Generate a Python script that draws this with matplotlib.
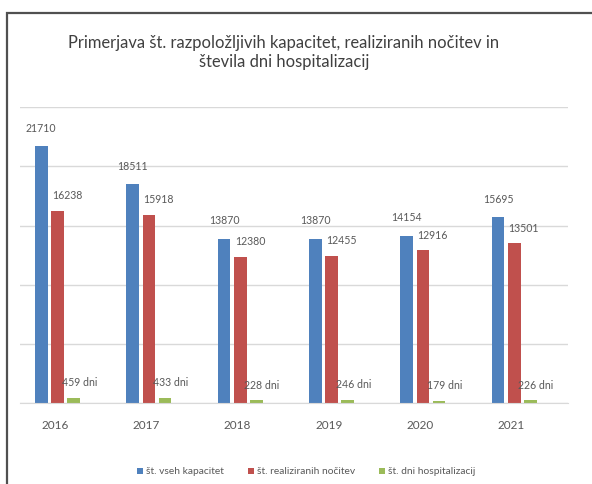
import numpy as np
import matplotlib.pyplot as plt
from matplotlib.patches import Rectangle

plt.rcParams['font.family'] = ['Lato', 'DejaVu Sans']

leta = ['2016', '2017', '2018', '2019', '2020', '2021']
kapacitete = [21710, 18511, 13870, 13870, 14154, 15695]
nocitve = [16238, 15918, 12380, 12455, 12916, 13501]
dni_hosp = [459, 433, 228, 246, 179, 226]
serije = ['št. vseh kapacitet', 'št. realiziranih nočitev', 'št. dni hospitalizacij']
barve = ['#4F81BD', '#C0504D', '#9BBB59']

fig = plt.figure(figsize=(5.92, 4.84), dpi=100)
ax = fig.add_axes([20 / 592, 81 / 484, 548 / 592, 295.7 / 484])

x = np.arange(len(leta))
korak = 0.178
sirina = 0.139
vrednosti = [kapacitete, nocitve, dni_hosp]
for k in range(3):
    pos = x + (k - 1.5) * korak
    bars = ax.bar(pos, vrednosti[k], sirina, color=barve[k], label=serije[k])
    for b, v in zip(bars, vrednosti[k]):
        if k == 0:
            txt, dx, dy = str(v), 0, 9
        elif k == 1:
            txt, dx, dy = str(v), 7, 7
        else:
            txt, dx, dy = f'{v} dni', 4, 7
        ax.annotate(txt, (b.get_x() + b.get_width() / 2, v), xytext=(dx, dy),
                    textcoords='offset points', ha='center', va='bottom',
                    fontsize=7.6, color='#595959')

ax.set_xlim(-0.5, 5.5)
ax.set_ylim(0, 25000)
ax.set_yticks(np.arange(0, 25001, 5000))
ax.set_yticklabels([])
ax.tick_params(axis='y', length=0)
ax.grid(axis='y', color='#D9D9D9', lw=1)
ax.set_axisbelow(True)
ax.set_xticks(x - 0.12)
ax.set_xticklabels(leta, fontsize=8.5, color='#595959')
ax.tick_params(axis='x', length=0, pad=12)
for s in ['top', 'right', 'left']:
    ax.spines[s].set_visible(False)
ax.spines['bottom'].set_color('#D9D9D9')

fig.text(284 / 592, 1 - 52.2 / 484,
         'Primerjava št. razpoložljivih kapacitet, realiziranih nočitev in\nštevila dni hospitalizacij',
         ha='center', va='center', multialignment='center', fontsize=11.9,
         linespacing=1.2, color='#404040')

ax.legend(loc='center', bbox_to_anchor=(306 / 592, 1 - 472 / 484),
          bbox_transform=fig.transFigure, ncol=3, frameon=False, fontsize=7.4,
          handlelength=0.6, handleheight=0.6, handletextpad=0.3, columnspacing=2.3,
          labelcolor='#595959')

fig.patches.append(Rectangle((7 / 592, -0.1), 1.2, 1.1 - 13 / 484, transform=fig.transFigure,
                             fill=False, edgecolor='#505050', lw=1.6))

fig.savefig('out.png', dpi=100)
